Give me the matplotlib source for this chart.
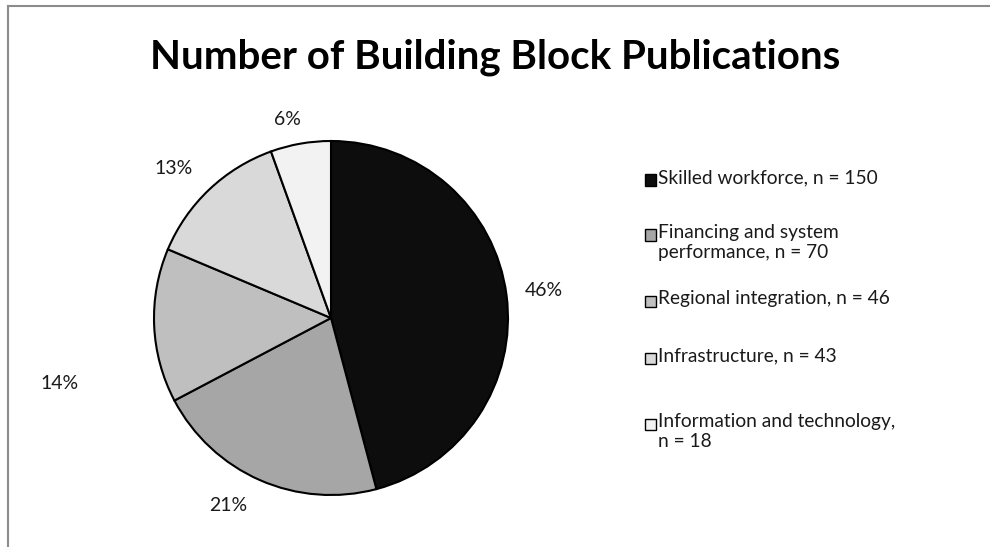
import numpy as np
import matplotlib.pyplot as plt
from matplotlib.patches import Rectangle
from matplotlib.lines import Line2D

plt.rcParams["font.family"] = ["Lato", "DejaVu Sans"]

categories = ["Skilled workforce", "Financing and system\nperformance", "Regional integration",
              "Infrastructure", "Information and technology,\n"]
counts = [150, 70, 46, 43, 18]
colors = ["#0d0d0d", "#a6a6a6", "#bfbfbf", "#d9d9d9", "#f2f2f2"]
title = "Number of Building Block Publications"

# label placement (radial distance, angle shift in degrees) per slice
label_dist = [1.21, 1.21, 1.58, 1.23, 1.15]
label_shift = [0, -5, 11, 3, 2.5]

W, H = 990, 547
fig = plt.figure(figsize=(W / 100, H / 100), dpi=100)

# frame of the chart area (top and left edges only visible)
fig.add_artist(Line2D([8 / W, 1], [1 - 6 / H, 1 - 6 / H], color="#8c8c8c", lw=1.5))
fig.add_artist(Line2D([8 / W, 8 / W], [0, 1 - 6 / H], color="#8c8c8c", lw=1.5))

cx, cy, r = 331, 318, 177
ax = fig.add_axes([(cx - r) / W, (H - cy - r) / H, 2 * r / W, 2 * r / H])
wedges, texts, autotexts = ax.pie(
    counts, colors=colors, startangle=90, counterclock=False,
    autopct=lambda p: f"{p:.0f}%", pctdistance=1.21,
    wedgeprops=dict(edgecolor="black", linewidth=1.5),
    textprops=dict(fontsize=14, color="#1a1a1a"))
for w, t, d, s in zip(wedges, autotexts, label_dist, label_shift):
    ang = np.deg2rad((w.theta1 + w.theta2) / 2 + s)
    t.set_position((d * np.cos(ang), d * np.sin(ang)))
ax.set_xlim(-1, 1)
ax.set_ylim(-1, 1)
ax.set_aspect("equal")
ax.axis("off")

fig.text(0.5, 1 - 57 / H, title, ha="center", va="center",
         fontsize=29, fontweight="bold")

# legend drawn by hand to get Excel-like spacing
leg_y = [180, 235, 301, 358, 424]
for name, n, col, y in zip(categories, counts, colors, leg_y):
    if name.endswith("\n"):
        label = name + f"n = {n}"
    else:
        label = name + f", n = {n}"
    fig.add_artist(Rectangle((645 / W, 1 - (y + 5.5) / H), 11 / W, 11 / H,
                             facecolor=col, edgecolor="black", lw=1,
                             transform=fig.transFigure))
    fig.text(658 / W, 1 - (y - 11) / H, label, ha="left", va="top",
             fontsize=13.8, color="#1a1a1a", linespacing=1.2)

fig.savefig("out.png", dpi=100)
